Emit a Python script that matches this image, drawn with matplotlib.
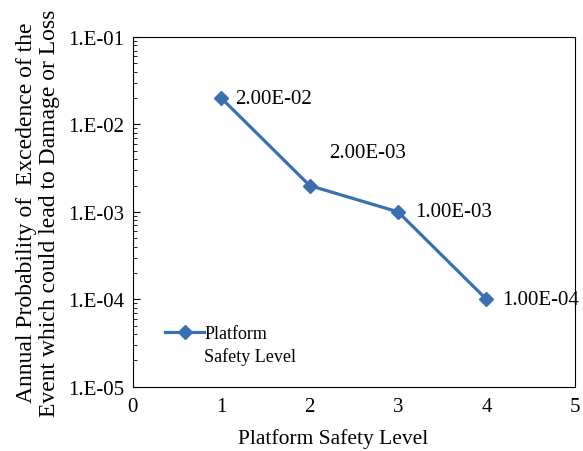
import numpy as np
import matplotlib
matplotlib.use("Agg")
import matplotlib.pyplot as plt

plt.rcParams['font.family'] = ['Liberation Serif', 'DejaVu Serif']

levels = [1, 2, 3, 4]
prob = [2.0e-2, 2.0e-3, 1.0e-3, 1.0e-4]
labels = ["2.00E-02", "2.00E-03", "1.00E-03", "1.00E-04"]
yticks = [1e-5, 1e-4, 1e-3, 1e-2, 1e-1]
ytick_labels = ["1.E-05", "1.E-04", "1.E-03", "1.E-02", "1.E-01"]

blue = '#3a70b2'

fig = plt.figure(figsize=(5.83, 4.52), dpi=100)
ax = fig.add_axes([0.228, 0.142, 0.758, 0.774])

ax.plot(levels, prob, color=blue, lw=2.3, marker='D', ms=7, label='Platform')
# label offsets in points (the second one sits up and right)
offsets = [(10, 0), (14, 24), (12, 0), (11, 0)]
for x, y, t, off in zip(levels, prob, labels, offsets):
    ax.annotate(t, (x, y), xytext=off, textcoords='offset points',
                va='center', ha='left', fontsize=15)

ax.set_yscale('log')
ax.set_ylim(1e-5, 1e-1)
ax.set_xlim(0, 5)
ax.set_yticks(yticks)
ax.set_yticklabels(ytick_labels)
ax.set_xticks([0, 1, 2, 3, 4, 5])
ax.tick_params(axis='both', which='both', direction='in', labelsize=15)
ax.tick_params(axis='x', length=0, pad=7)
ax.tick_params(axis='y', which='major', length=5, pad=6)
ax.tick_params(axis='y', which='minor', length=3)
ax.tick_params(right=False, top=False)

ax.set_xlabel('Platform Safety Level', fontsize=15.5)
ax.xaxis.set_label_coords(0.452, -0.117)
ax.set_ylabel('Annual Probability of  Excedence of the\nEvent which could lead to Damage or Loss',
              fontsize=17, labelpad=6, linespacing=1.15)

leg = ax.legend(loc='center left', bbox_to_anchor=(0.072, 0.151), frameon=False,
                fontsize=13, handlelength=2.2, handletextpad=0.0,
                borderaxespad=0, borderpad=0)

# second line of the legend label, placed under "Platform"
fig.canvas.draw()
bb = leg.get_texts()[0].get_window_extent().transformed(ax.transAxes.inverted())
ax.text(bb.x0, bb.y0 - 0.013, 'Safety Level', transform=ax.transAxes,
        va='top', ha='left', fontsize=13)

fig.savefig('out.png', dpi=100)
